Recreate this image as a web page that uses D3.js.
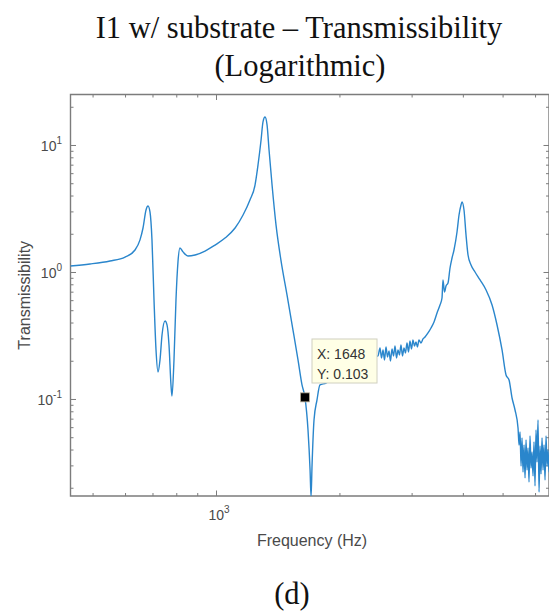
<!DOCTYPE html>
<html>
<head>
<meta charset="utf-8">
<script src="https://cdn.jsdelivr.net/npm/d3@7"></script>
<style>
  body { margin: 0; background: #fff; }
  svg { display: block; }
</style>
</head>
<body>
<div id="chart"></div>
<script>
// Frequency (Hz) and transmissibility
const freqs = [
    441, 492.8, 551.3, 600, 634.6, 652.6, 663.7, 675, 682.7, 690.2,
    698, 706, 714, 722, 730.2, 738.5, 751, 759.5, 768, 776.6,
    781, 789.8, 798.7, 807.7, 816.8, 830.7, 854.3, 888.9, 940.2, 994.5,
    1052, 1113, 1164, 1210, 1245, 1266, 1288, 1302, 1317, 1332,
    1347, 1370, 1401, 1440, 1490, 1541, 1585, 1621, 1648, 1676.5,
    1696, 1705.5, 1715, 1734, 1763, 1793, 1855, 2006, 2245,
    2484, 2512, 2533, 2555, 2576, 2598, 2620, 2642, 2664, 2687,
    2710, 2733, 2756, 2779, 2802, 2826, 2850, 2874, 2898, 2923,
    2948, 2972, 2998, 3023, 3048, 3074, 3100, 3126, 3162, 3198,
    3234, 3289, 3345, 3402, 3460, 3518, 3558, 3578, 3608, 3639,
    3680, 3722, 3764, 3806,
    3871, 3915, 3959, 3981, 4026, 4072, 4118, 4188, 4283, 4406,
    4557, 4713, 4847, 4985, 5098, 5185, 5273, 5362,
    5453, 5484, 5515, 5546, 5577, 5608, 5640, 5672, 5704, 5736,
    5768, 5800, 5833, 5866, 5899, 5932, 5966, 5999, 6033, 6067,
    6101, 6136, 6170, 6205, 6240, 6275, 6310, 6346, 6382, 6418,
    6454, 6490, 6527
];
const trans = [
    1.115, 1.156, 1.22, 1.31, 1.49, 1.79, 2.22, 3.08, 3.31, 2.97,
    1.79, 0.602, 0.243, 0.163, 0.203, 0.319, 0.411, 0.383, 0.266, 0.129,
    0.1056, 0.203, 0.602, 1.20, 1.545, 1.44, 1.336, 1.36, 1.46, 1.63,
    1.85, 2.22, 2.81, 3.69, 4.84, 6.96, 10.95, 15.2, 16.6, 14.4,
    9.14, 4.84, 2.34, 1.24, 0.659, 0.349, 0.203, 0.129, 0.103, 0.057,
    0.0276, 0.017, 0.0302, 0.0684, 0.098, 0.129, 0.1336, 0.169, 0.203,
    0.2182, 0.2521, 0.2103, 0.2431, 0.2028, 0.2567, 0.2142, 0.2388, 0.1991, 0.2475,
    0.2182, 0.2614, 0.2103, 0.2431, 0.2221, 0.2661, 0.2182, 0.2521, 0.2303, 0.2760,
    0.2344, 0.2862, 0.2475, 0.2915, 0.2614, 0.2811, 0.2567, 0.2915, 0.2760, 0.2968,
    0.3078, 0.3310, 0.3623, 0.4040, 0.4755, 0.5498, 0.6241, 0.8650, 0.6958, 0.7760,
    0.8190, 1.0752, 1.2886, 1.490,
    2.065, 2.811, 3.370, 3.557, 3.077, 1.956, 1.361, 1.135, 1.0, 0.865,
    0.7215, 0.5498, 0.3825, 0.2431, 0.1545, 0.1411, 0.1018, 0.0819,
    0.0591, 0.0434, 0.0550, 0.0297, 0.0493, 0.0266, 0.0434, 0.0239, 0.0475, 0.0276,
    0.0411, 0.0222, 0.0511, 0.0286, 0.0383, 0.0248, 0.0459, 0.0207, 0.0570, 0.0319,
    0.0683, 0.0185, 0.0427, 0.0257, 0.0493, 0.0276, 0.0434, 0.0230, 0.0511, 0.0297,
    0.0397, 0.0266, 0.0362
];

// Axis limits and ticks
const xLimits = [441.7, 6489];
const yLimits = [0.01722, 24.98];
const xMajor = [1000];
const xMinor = [500, 600, 700, 800, 900, 2000, 3000, 4000, 5000, 6000];
const yMajor = [0.1, 1, 10];
const yMinor = [0.02, 0.03, 0.04, 0.05, 0.06, 0.07, 0.08, 0.09,
    0.2, 0.3, 0.4, 0.5, 0.6, 0.7, 0.8, 0.9,
    2, 3, 4, 5, 6, 7, 8, 9, 20];
const yTickLabels = ["-1", "0", "1"];
const xTickLabels = ["3"];

// Data tip
const tipPoint = [1648, 0.103];
const tipLines = ["X: 1648", "Y: 0.103"];

const width = 549, height = 614;
const plot = { left: 70.5, right: 549, top: 94.5, bottom: 496 };

const x = d3.scaleLog().domain(xLimits).range([plot.left, plot.right]);
const y = d3.scaleLog().domain(yLimits).range([plot.bottom, plot.top]);

const svg = d3.select("#chart").append("svg")
    .attr("width", width)
    .attr("height", height);

const axisColor = "#7c7c7c";
const textColor = "#4a4a4a";
const sansFont = "'Liberation Sans', Arial, Helvetica, sans-serif";
const serifFont = "'Liberation Serif', 'Times New Roman', serif";

// Title
svg.append("text")
    .attr("x", 299).attr("y", 38)
    .attr("text-anchor", "middle")
    .style("font-family", serifFont).style("font-size", "30.5px").attr("fill", "#111")
    .text("I1 w/ substrate \u2013 Transmissibility");
svg.append("text")
    .attr("x", 300).attr("y", 76)
    .attr("text-anchor", "middle")
    .style("font-family", serifFont).style("font-size", "30.5px").attr("fill", "#111")
    .text("(Logarithmic)");

svg.append("clipPath").attr("id", "clip")
    .append("rect")
    .attr("x", plot.left).attr("y", plot.top)
    .attr("width", plot.right - plot.left).attr("height", plot.bottom - plot.top);

// Ticks on all four sides, pointing inward
function drawTicks(axis, transform, values, size) {
    svg.append("g")
        .attr("transform", transform)
        .call(axis.tickValues(values).tickSize(-size).tickSizeOuter(0).tickFormat(""))
        .call(g => g.select(".domain").remove())
        .call(g => g.selectAll("line").attr("stroke", axisColor).attr("stroke-width", 1));
}
drawTicks(d3.axisBottom(x), `translate(0,${plot.bottom})`, xMinor, 3);
drawTicks(d3.axisBottom(x), `translate(0,${plot.bottom})`, xMajor, 5.5);
drawTicks(d3.axisTop(x), `translate(0,${plot.top})`, xMinor, 3);
drawTicks(d3.axisTop(x), `translate(0,${plot.top})`, xMajor, 5.5);
drawTicks(d3.axisLeft(y), `translate(${plot.left},0)`, yMinor, 3);
drawTicks(d3.axisLeft(y), `translate(${plot.left},0)`, yMajor, 5.5);
drawTicks(d3.axisRight(y), `translate(${plot.right},0)`, yMinor, 3);
drawTicks(d3.axisRight(y), `translate(${plot.right},0)`, yMajor, 5.5);

// Box
svg.append("path")
    .attr("d", `M${plot.left},${plot.bottom}V${plot.top}H${plot.right}V${plot.bottom}Z`)
    .attr("fill", "none")
    .attr("stroke", axisColor)
    .attr("stroke-width", 1.4);

// Tick labels with superscript exponents
yMajor.forEach((v, i) => {
    const t = svg.append("text")
        .attr("x", 62).attr("y", y(v) + 6.5)
        .attr("text-anchor", "end")
        .style("font-family", sansFont).style("font-size", "14px").attr("fill", textColor);
    t.append("tspan").text("10");
    t.append("tspan").attr("dy", -7).style("font-size", "10px").text(yTickLabels[i]);
});
xMajor.forEach((v, i) => {
    const t = svg.append("text")
        .attr("x", x(v) + 3).attr("y", 520)
        .attr("text-anchor", "middle")
        .style("font-family", sansFont).style("font-size", "14px").attr("fill", textColor);
    t.append("tspan").text("10");
    t.append("tspan").attr("dy", -7).style("font-size", "10px").text(xTickLabels[i]);
});

// Axis labels
svg.append("text")
    .attr("x", 312).attr("y", 546)
    .attr("text-anchor", "middle")
    .style("font-family", sansFont).style("font-size", "16px").attr("fill", textColor)
    .text("Frequency (Hz)");
svg.append("text")
    .attr("transform", `translate(30,${(plot.top + plot.bottom) / 2}) rotate(-90)`)
    .attr("text-anchor", "middle")
    .style("font-family", sansFont).style("font-size", "16px").attr("fill", textColor)
    .text("Transmissibility");

// The curve
const line = d3.line()
    .x(d => x(d[0]))
    .y(d => y(d[1]))
    .curve(d3.curveMonotoneX);

svg.append("path")
    .datum(freqs.map((f, i) => [f, trans[i]]))
    .attr("clip-path", "url(#clip)")
    .attr("d", line)
    .attr("fill", "none")
    .attr("stroke", "#2a86cc")
    .attr("stroke-width", 1.4)
    .attr("stroke-linejoin", "round");

// Data tip: marker and label box
const tx = x(tipPoint[0]), ty = y(tipPoint[1]);
svg.append("rect")
    .attr("x", tx - 4.5).attr("y", ty - 4.5)
    .attr("width", 9).attr("height", 9)
    .attr("fill", "#000")
    .attr("stroke", "#b8b09a").attr("stroke-width", 0.8);

svg.append("rect")
    .attr("x", 312).attr("y", 339)
    .attr("width", 65).attr("height", 44)
    .attr("fill", "#ffffe6")
    .attr("stroke", "#d0d0c0").attr("stroke-width", 1);

tipLines.forEach((s, i) => {
    svg.append("text")
        .attr("x", 317).attr("y", 359 + i * 20)
        .style("font-family", sansFont).style("font-size", "14px").attr("fill", "#333")
        .text(s);
});

// Panel caption
svg.append("text")
    .attr("x", 292).attr("y", 604)
    .attr("text-anchor", "middle")
    .style("font-family", serifFont).style("font-size", "30.5px").attr("fill", "#111")
    .text("(d)");
</script>
</body>
</html>
